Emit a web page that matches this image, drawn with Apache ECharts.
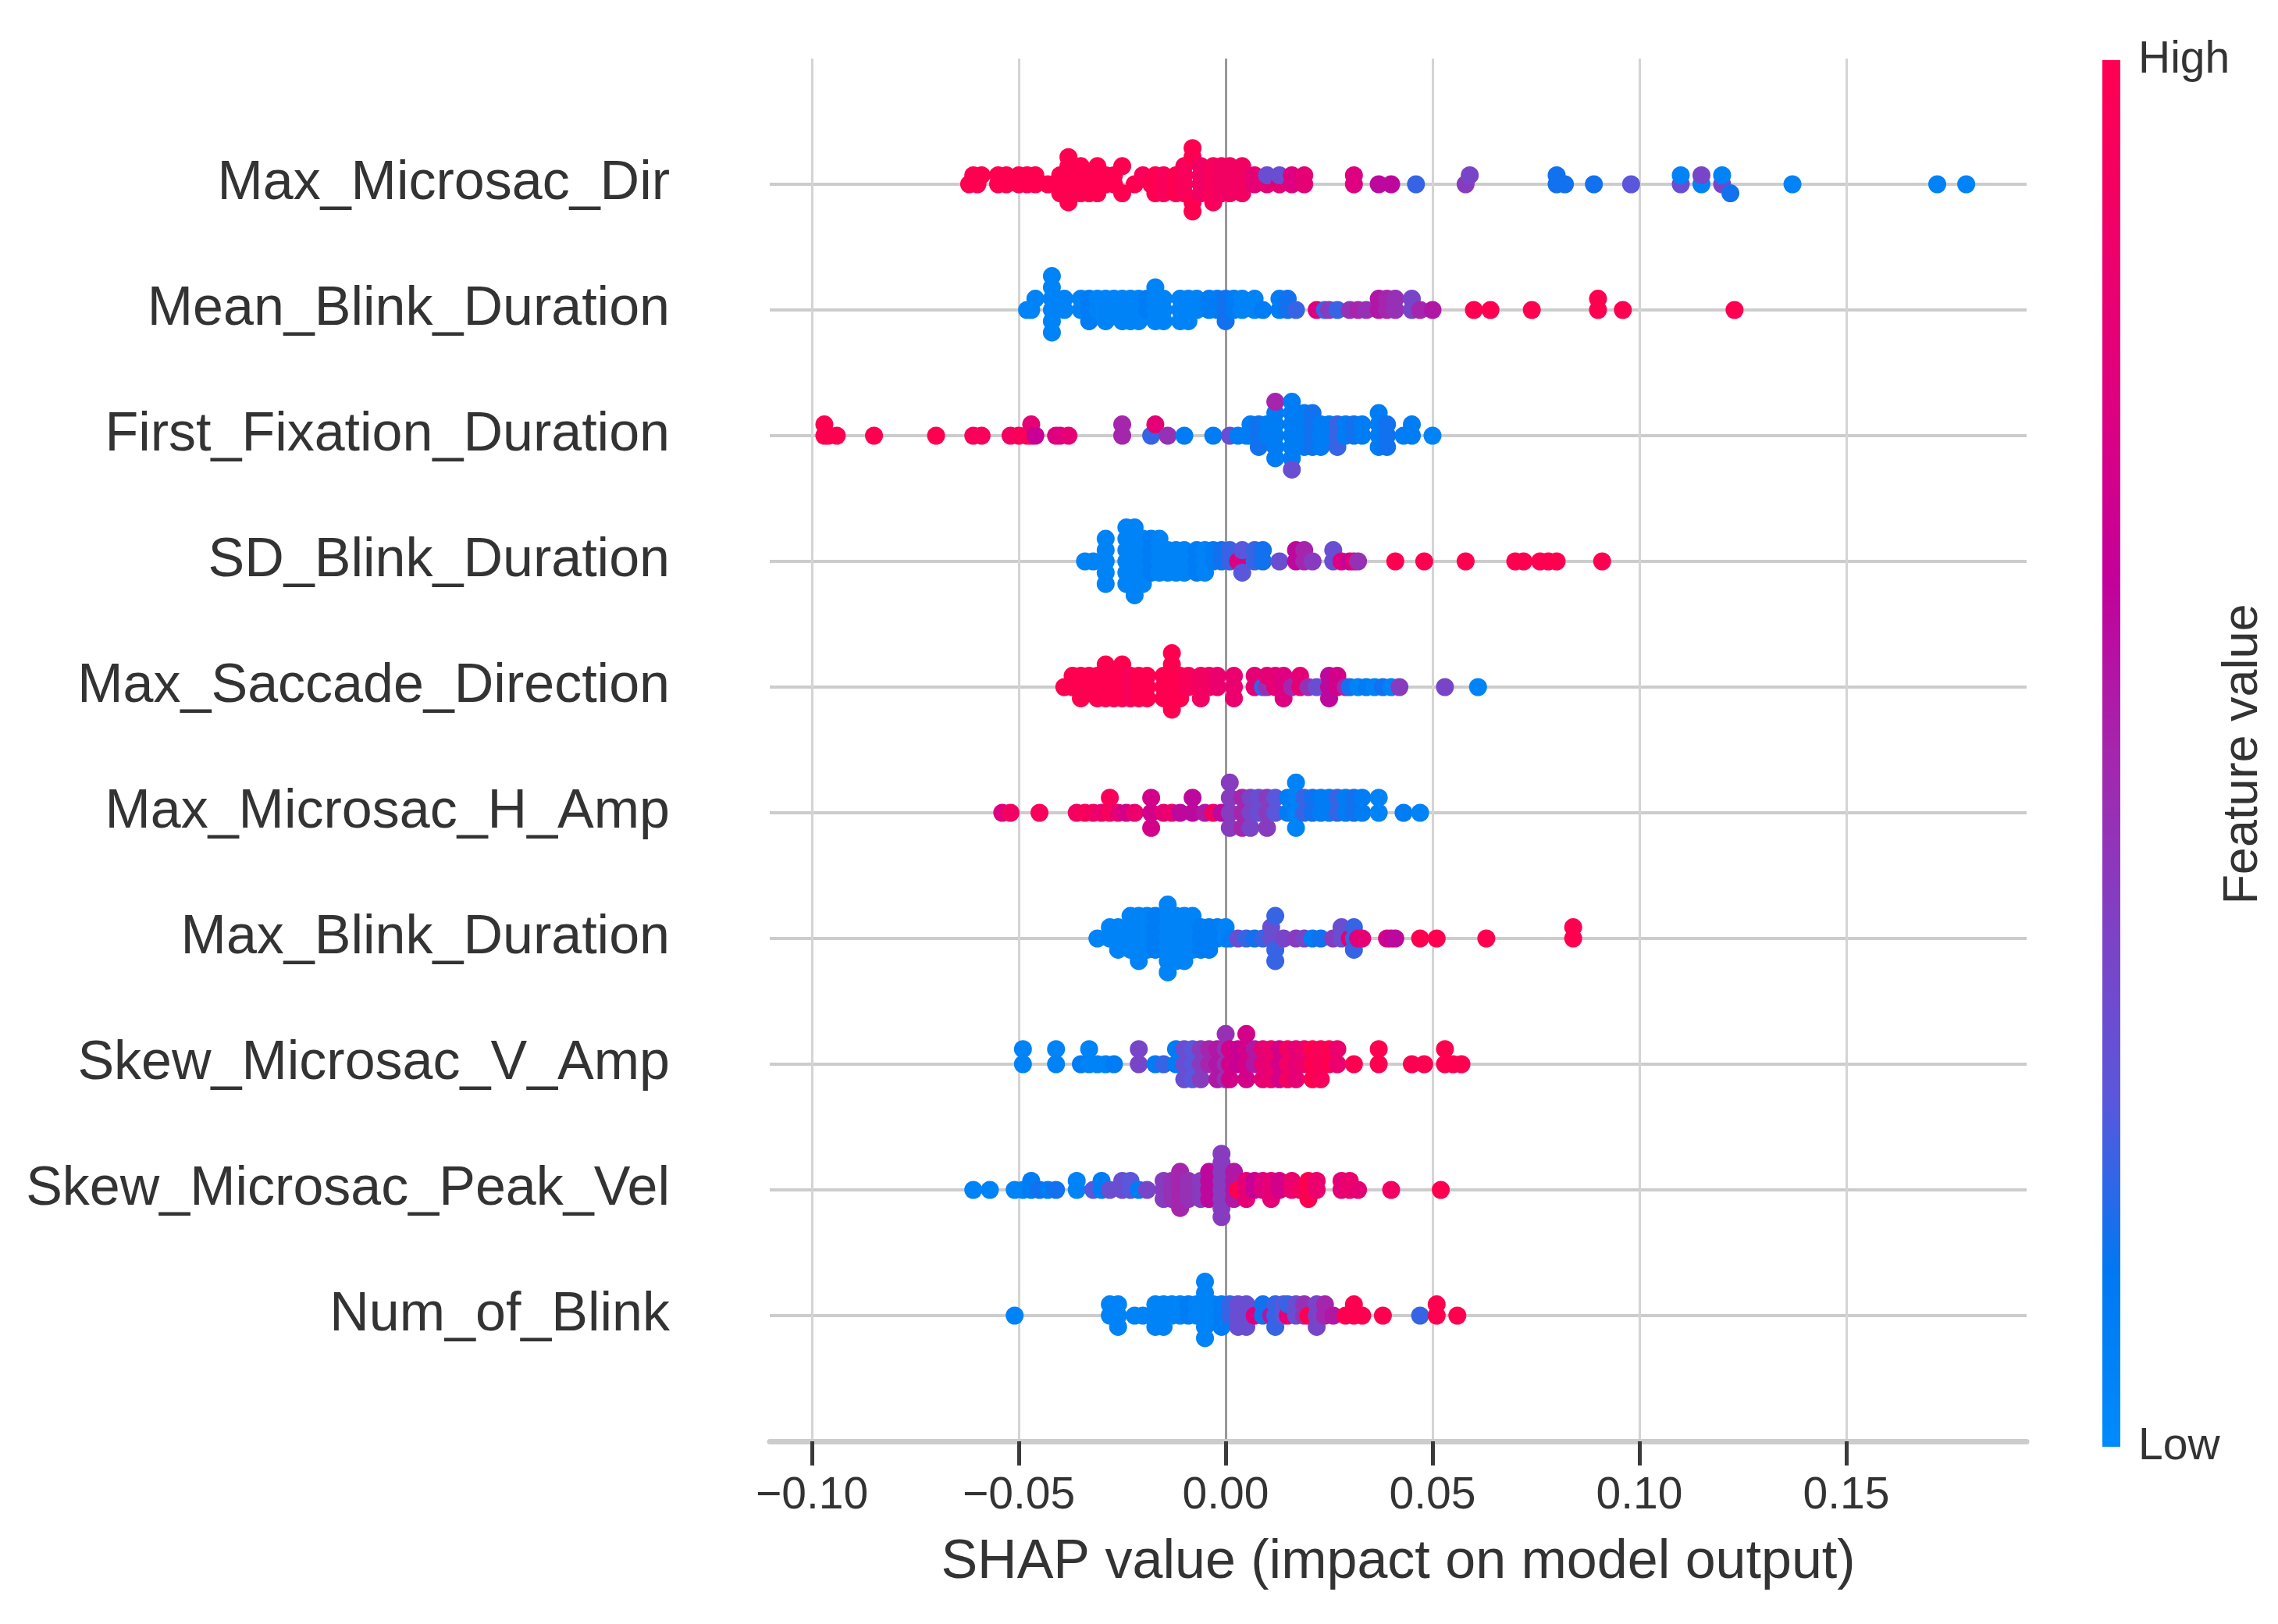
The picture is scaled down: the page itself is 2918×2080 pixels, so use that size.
<!DOCTYPE html>
<html>
<head>
<meta charset="utf-8">
<title>SHAP summary</title>
<script src="https://cdn.jsdelivr.net/npm/echarts@6/dist/echarts.min.js"></script>
<style>
  html, body { margin: 0; padding: 0; background: #fff; }
  #chart { width: 2918px; height: 2080px; }
</style>
</head>
<body>
<div id="chart"></div>
<script>
'use strict';

// ── Data ─────────────────────────────────────────────────────────────────────
// each point group: [SHAP value, feature value 0..1 (low..high), number of dots]
const featureNames = [
  'Max_Microsac_Dir', 'Mean_Blink_Duration', 'First_Fixation_Duration',
  'SD_Blink_Duration', 'Max_Saccade_Direction', 'Max_Microsac_H_Amp',
  'Max_Blink_Duration', 'Skew_Microsac_V_Amp', 'Skew_Microsac_Peak_Vel',
  'Num_of_Blink'
];

const maxMicrosacDir = [
  [-0.062,1,1],[-0.061,1,1],[-0.060,1,1],[-0.059,1,1],
  [-0.055,1,2],[-0.053,1,2],[-0.050,1,2],[-0.048,1,2],[-0.046,1,2],[-0.043,1,1],
  [-0.041,1,1],[-0.040,1,2],[-0.038,1,6],
  [-0.035,1,4],[-0.033,1,3],[-0.031,1,4],
  [-0.029,1,2],[-0.027,1,2],[-0.025,1,2],
  [-0.022,1,1],[-0.020,0.95,1],[-0.018,1,1],
  [-0.017,1,3],[-0.015,0.95,3],[-0.012,1,3],
  [-0.010,0.95,4],[-0.008,1,4],[-0.006,0.9,4],[-0.003,0.95,5],[-0.001,0.9,4],[0.001,0.9,4],[0.004,0.9,4],
  [0.007,0.8,2],[0.010,0.8,1],[0.010,0.3,1],[0.013,0.8,1],[0.013,0.3,1],[0.016,0.75,2],[0.019,0.8,2],
  [0.031,0.75,2],[0.037,0.6,1],[0.040,0.6,1],[0.046,0.2,1],[0.058,0.4,1],[0.059,0.35,1],
  [0.080,0.15,2],[0.082,0.15,1],[0.089,0.15,1],[0.098,0.25,1],
  [0.110,0.3,1],[0.110,0.05,1],[0.115,0.05,1],[0.115,0.35,1],[0.120,0.35,1],[0.120,0.05,1],[0.122,0.15,1],
  [0.137,0.05,1],[0.172,0.05,1],[0.179,0.05,1]
];

const meanBlinkDuration = [
  [-0.048,0.05,1],[-0.047,0.05,1],[-0.046,0.05,1],
  [-0.042,0.05,6],[-0.039,0.05,2],
  [-0.035,0.05,2],[-0.033,0.1,3],[-0.031,0.05,2],[-0.029,0.05,3],[-0.027,0.05,2],[-0.025,0.05,3],
  [-0.023,0.05,3],[-0.021,0.05,3],[-0.019,0.1,2],[-0.017,0.05,4],[-0.015,0.05,3],
  [-0.011,0.05,3],[-0.009,0.05,3],[-0.007,0.05,2],
  [-0.004,0.1,2],[-0.002,0.1,2],[0.000,0.15,3],[0.002,0.1,2],[0.004,0.05,2],
  [0.007,0.05,2],[0.009,0.1,1],
  [0.013,0.1,2],[0.015,0.15,2],[0.017,0.2,1],
  [0.022,0.75,1],[0.024,0.2,1],[0.025,0.4,1],[0.027,0.2,1],
  [0.030,0.45,1],[0.032,0.5,1],[0.034,0.45,1],
  [0.037,0.55,2],[0.039,0.5,2],[0.041,0.45,2],
  [0.045,0.35,2],[0.047,0.5,1],[0.050,0.55,1],
  [0.060,1,1],[0.064,1,1],[0.074,1,1],[0.090,1,2],[0.096,1,1],[0.123,1,1]
];

const firstFixationDuration = [
  [-0.097,1,2],[-0.096,1,1],[-0.094,1,1],[-0.085,1,1],[-0.070,1,1],
  [-0.061,0.95,1],[-0.059,0.95,1],
  [-0.052,0.9,1],[-0.050,0.95,1],[-0.048,0.95,1],[-0.047,1,1],[-0.047,0.8,1],[-0.046,0.65,1],
  [-0.041,0.75,1],[-0.040,0.75,1],[-0.038,0.8,1],
  [-0.025,0.5,2],[-0.018,0.2,1],[-0.017,0.8,1],[-0.014,0.45,1],[-0.010,0.1,1],[-0.003,0.1,1],
  [0.001,0.3,1],[0.003,0.1,1],[0.005,0.1,1],
  [0.006,0.1,2],[0.008,0.15,3],[0.010,0.1,2],[0.012,0.1,5],[0.012,0.5,1],
  [0.016,0.1,6],[0.016,0.3,1],
  [0.019,0.1,4],[0.021,0.15,4],[0.023,0.1,3],
  [0.025,0.1,2],[0.027,0.2,3],[0.029,0.1,2],[0.031,0.15,2],[0.033,0.1,2],
  [0.037,0.1,4],[0.039,0.15,3],
  [0.043,0.1,1],[0.045,0.1,2],[0.050,0.05,1]
];

const sdBlinkDuration = [
  [-0.034,0.05,1],[-0.032,0.05,1],[-0.029,0.05,5],
  [-0.024,0.05,6],[-0.022,0.05,7],[-0.020,0.05,5],[-0.018,0.1,4],
  [-0.016,0.05,4],[-0.014,0.05,3],[-0.012,0.05,3],[-0.010,0.05,3],
  [-0.007,0.1,3],[-0.005,0.05,3],[-0.003,0.1,2],[-0.001,0.15,2],[0.001,0.2,2],
  [0.003,0.75,1],[0.004,0.25,2],[0.007,0.2,2],[0.009,0.15,2],[0.013,0.3,1],
  [0.017,0.6,2],[0.019,0.5,2],[0.021,0.4,1],
  [0.026,0.3,2],[0.028,0.75,1],[0.030,0.6,1],[0.031,0.8,1],[0.032,0.45,1],
  [0.041,1,1],[0.048,1,1],[0.058,1,1],
  [0.070,1,1],[0.072,1,1],[0.076,1,1],[0.078,1,1],[0.080,1,1],[0.091,1,1]
];

const maxSaccadeDirection = [
  [-0.039,1,1],[-0.037,1,2],[-0.035,1,3],[-0.033,1,2],
  [-0.031,1,3],[-0.029,1,4],[-0.027,1,3],[-0.025,1,4],[-0.023,0.95,3],[-0.021,1,3],[-0.019,1,3],
  [-0.015,1,3],[-0.013,1,6],[-0.011,1,3],[-0.009,0.95,2],
  [-0.006,0.9,3],[-0.004,0.9,2],[-0.002,0.85,2],[0.002,0.85,3],
  [0.007,0.8,2],[0.009,0.2,1],[0.010,0.45,1],[0.010,0.8,1],[0.012,0.8,2],[0.014,0.75,3],[0.016,0.5,1],
  [0.018,0.8,2],[0.020,0.45,1],[0.022,0.3,1],
  [0.025,0.6,3],[0.027,0.7,2],[0.029,0.5,1],[0.030,0.15,1],
  [0.032,0.05,1],[0.034,0.1,1],[0.036,0.05,1],[0.038,0.15,1],[0.040,0.05,1],[0.042,0.4,1],
  [0.053,0.35,1],[0.061,0.05,1]
];

const maxMicrosacHAmp = [
  [-0.054,0.75,1],[-0.052,0.9,1],[-0.045,0.95,1],
  [-0.036,0.9,1],[-0.034,0.95,1],[-0.032,0.9,1],[-0.030,0.85,1],[-0.028,0.95,2],[-0.026,0.8,1],[-0.024,0.7,1],[-0.022,0.85,1],
  [-0.018,0.7,3],[-0.015,0.8,1],[-0.013,0.85,1],[-0.011,0.6,1],[-0.008,0.6,2],
  [-0.005,0.55,1],[-0.003,0.9,1],[-0.001,0.6,1],
  [0.001,0.4,4],[0.004,0.5,3],[0.006,0.35,3],[0.008,0.3,2],[0.010,0.4,3],[0.012,0.25,2],
  [0.015,0.1,2],[0.017,0.05,4],[0.019,0.2,2],[0.021,0.15,2],[0.023,0.1,2],
  [0.025,0.1,2],[0.027,0.2,2],[0.029,0.1,2],[0.031,0.15,2],[0.033,0.1,2],
  [0.037,0.05,2],[0.043,0.1,1],[0.047,0.05,1]
];

const maxBlinkDuration = [
  [-0.031,0.05,1],[-0.028,0.05,2],[-0.026,0.05,3],
  [-0.023,0.05,4],[-0.021,0.05,5],[-0.019,0.05,4],[-0.017,0.1,4],
  [-0.014,0.05,7],[-0.012,0.05,5],
  [-0.010,0.05,5],[-0.008,0.05,4],[-0.006,0.1,3],
  [-0.004,0.1,3],[-0.002,0.1,2],[0.000,0.05,2],
  [0.001,0.1,1],[0.003,0.3,1],[0.005,0.2,1],[0.007,0.15,1],[0.009,0.2,1],
  [0.011,0.3,2],[0.012,0.2,3],[0.014,0.35,1],
  [0.017,0.4,1],[0.019,0.35,1],[0.021,0.1,1],[0.023,0.15,1],
  [0.026,0.4,1],[0.028,0.3,2],[0.030,0.8,1],[0.031,0.2,3],[0.032,0.75,1],[0.033,0.8,1],
  [0.039,0.7,1],[0.040,0.65,1],[0.041,0.6,1],
  [0.047,1,1],[0.051,1,1],[0.063,1,1],[0.084,1,2]
];

const skewMicrosacVAmp = [
  [-0.049,0.05,2],[-0.041,0.05,2],
  [-0.035,0.1,1],[-0.033,0.05,2],[-0.031,0.05,1],[-0.029,0.05,1],[-0.027,0.1,1],
  [-0.021,0.35,2],[-0.017,0.1,1],[-0.015,0.2,1],
  [-0.012,0.1,2],[-0.010,0.3,3],[-0.008,0.25,3],[-0.006,0.4,3],[-0.004,0.5,2],[-0.002,0.55,3],
  [0.000,0.45,4],[0.001,0.7,3],
  [0.003,0.65,2],[0.005,0.7,4],[0.007,0.55,2],
  [0.009,0.8,3],[0.011,0.85,3],[0.013,0.7,3],[0.015,0.9,3],[0.017,0.8,3],[0.019,0.85,2],[0.021,1,3],[0.023,0.95,3],[0.025,1,2],[0.027,0.85,2],
  [0.031,1,1],[0.037,1,2],[0.045,1,1],[0.048,1,1],[0.053,1,2],[0.055,1,1],[0.057,1,1]
];

const skewMicrosacPeakVel = [
  [-0.061,0.05,1],[-0.057,0.05,1],
  [-0.051,0.05,1],[-0.049,0.05,1],[-0.047,0.1,2],[-0.045,0.15,1],
  [-0.043,0.1,1],[-0.041,0.15,1],[-0.036,0.05,2],
  [-0.032,0.25,1],[-0.030,0.1,2],[-0.028,0.3,1],
  [-0.025,0.3,2],[-0.023,0.25,2],[-0.021,0.1,1],[-0.019,0.35,1],
  [-0.015,0.4,3],[-0.013,0.45,3],[-0.011,0.5,5],[-0.009,0.45,3],
  [-0.006,0.4,3],[-0.004,0.6,4],
  [-0.001,0.4,8],[0.002,0.55,4],[0.003,1,1],
  [0.005,0.8,3],[0.007,0.65,2],[0.009,0.75,2],[0.011,0.8,3],[0.013,0.7,2],
  [0.016,0.85,2],[0.018,0.9,1],[0.020,1,3],[0.022,0.85,2],
  [0.028,0.8,2],[0.030,0.85,2],[0.032,0.8,1],
  [0.040,0.9,1],[0.052,1,1]
];

const numOfBlink = [
  [-0.051,0.05,1],
  [-0.028,0.05,2],[-0.026,0.05,3],[-0.022,0.05,1],[-0.020,0.05,1],
  [-0.017,0.05,3],[-0.015,0.05,3],[-0.013,0.05,2],[-0.011,0.05,2],[-0.009,0.1,2],[-0.007,0.05,2],
  [-0.005,0.05,6],
  [-0.003,0.05,2],[-0.001,0.1,3],[0.001,0.2,2],[0.003,0.3,3],
  [0.005,0.3,3],[0.007,0.75,1],[0.009,0.15,2],[0.011,0.55,1],[0.012,0.2,3],
  [0.014,0.25,2],[0.015,0.8,1],[0.015,0.2,1],[0.017,0.3,2],[0.019,0.45,2],[0.020,1,1],
  [0.022,0.35,3],[0.024,0.5,2],[0.026,0.55,1],
  [0.029,1,1],[0.031,1,2],[0.033,1,1],[0.038,1,1],[0.047,0.2,1],[0.051,1,2],[0.056,1,1]
];

const featurePoints = [
  maxMicrosacDir, meanBlinkDuration, firstFixationDuration, sdBlinkDuration,
  maxSaccadeDirection, maxMicrosacHAmp, maxBlinkDuration, skewMicrosacVAmp,
  skewMicrosacPeakVel, numOfBlink
];

const xTicks = [-0.10, -0.05, 0.00, 0.05, 0.10, 0.15];
const xMin = -0.1102, xMax = 0.1936;

// low → high feature value
const cmapColors = ['#008bfb', '#0078f2', '#5a57dc', '#7f41c4', '#a526ad',
                    '#c3009a', '#de0080', '#f00068', '#ff0051'];

const FONT = "'Liberation Sans', Arial, sans-serif";

// ── Beeswarm layout (same stacking rule as shap.summary_plot) ────────────────
function swarm(groups, rowY) {
  const xs = [], cs = [];
  groups.forEach(([x, c, n]) => { for (let k = 0; k < n; k++) { xs.push(x); cs.push(c); } });
  const lo = Math.min(...xs), hi = Math.max(...xs);
  const quant = xs.map(x => Math.round(100 * (x - lo) / (hi - lo + 1e-8)));
  const order = xs.map((_, i) => i).sort((a, b) => quant[a] - quant[b] || a - b);
  const ys = new Array(xs.length).fill(0);
  let layer = 0, lastBin = -1;
  order.forEach(i => {
    if (quant[i] !== lastBin) layer = 0;
    ys[i] = Math.ceil(layer / 2) * ((layer % 2) * 2 - 1);
    layer++;
    lastBin = quant[i];
  });
  const scale = 0.9 * (0.4 / (Math.max(...ys) + 1));
  return xs.map((x, i) => [x, rowY + ys[i] * scale, cs[i]]);
}

const nRows = featureNames.length;
const scatterData = [];
featurePoints.forEach((g, i) => scatterData.push(...swarm(g, nRows - 1 - i)));

// ── Chart ────────────────────────────────────────────────────────────────────
const chart = echarts.init(document.getElementById('chart'), null, { renderer: 'canvas' });

const fmtTick = v => (v < 0 ? '\u2212' : '') + Math.abs(v).toFixed(2);

chart.setOption({
  backgroundColor: '#ffffff',
  animation: false,
  textStyle: { fontFamily: FONT },
  grid: [
    { left: 986, right: 322, top: 75, bottom: 234 },
    // thin strip right under the axis line: its split lines are the tick marks
    { left: 986, right: 322, top: 1849, height: 28 }
  ],
  xAxis: [
    {
      type: 'value',
      gridIndex: 0,
      min: xMin,
      max: xMax,
      axisLine:  { show: true, onZero: false, lineStyle: { color: '#cccccc', width: 7 } },
      axisTick:  { show: true, customValues: xTicks, length: 28, lineStyle: { color: '#3a3a3a', width: 5 } },
      axisLabel: { customValues: xTicks, formatter: fmtTick, fontSize: 57, color: '#333333', margin: 42, fontFamily: FONT },
      splitLine: {
        show: true,
        lineStyle: { color: xTicks.map(v => v === 0 ? '#999999' : '#d4d4d4'), width: 3 }
      },
      name: 'SHAP value (impact on model output)',
      nameLocation: 'middle',
      nameGap: 121,
      nameTextStyle: { fontSize: 70, color: '#333333', fontFamily: FONT }
    },
    {
      type: 'value',
      gridIndex: 1,
      min: xMin,
      max: xMax,
      axisLine:  { show: false },
      axisTick:  { show: true, customValues: xTicks, lineStyle: { color: 'rgba(0,0,0,0)' } },
      axisLabel: { show: false },
      splitLine: { show: true, lineStyle: { color: '#3a3a3a', width: 5 } }
    }
  ],
  yAxis: [
    {
      type: 'value',
      gridIndex: 0,
      min: -1,
      max: nRows,
      interval: 1,
      axisLine: { show: false },
      axisTick: { show: false },
      axisLabel: {
        formatter: v => (v >= 0 && v < nRows) ? featureNames[nRows - 1 - v] : '',
        fontSize: 70, color: '#333333', margin: 128, fontFamily: FONT
      },
      splitLine: { show: true, showMinLine: false, showMaxLine: false,
                   lineStyle: { color: '#cccccc', width: 4 } }
    },
    {
      type: 'value',
      gridIndex: 1,
      min: 0,
      max: 1,
      show: false
    }
  ],
  visualMap: {
    type: 'continuous',
    show: false,
    min: 0,
    max: 1,
    dimension: 2,
    seriesIndex: 0,
    inRange: { color: cmapColors }
  },
  series: [
    {
      type: 'scatter',
      xAxisIndex: 0,
      yAxisIndex: 0,
      data: scatterData,
      symbol: 'circle',
      symbolSize: 23,
      itemStyle: { opacity: 1 },
      silent: true
    },
    {
      type: 'scatter',
      xAxisIndex: 1,
      yAxisIndex: 1,
      data: [],
      silent: true
    }
  ],
  graphic: [
    {
      id: 'cbar',
      type: 'rect',
      shape: { x: 2693, y: 77, width: 23, height: 1776 },
      style: {
        fill: new echarts.graphic.LinearGradient(0, 0, 0, 1,
          cmapColors.slice().reverse().map((c, i) => ({ offset: i / (cmapColors.length - 1), color: c })))
      }
    },
    { id: 'cbHigh', type: 'text', x: 2739, y: 77,
      style: { text: 'High', fontSize: 57, fill: '#333333', fontFamily: FONT, verticalAlign: 'middle' } },
    { id: 'cbLow', type: 'text', x: 2739, y: 1853,
      style: { text: 'Low', fontSize: 57, fill: '#333333', fontFamily: FONT, verticalAlign: 'middle' } },
    { id: 'cbTitle', type: 'text', x: 2874, y: 966, rotation: Math.PI / 2,
      style: { text: 'Feature value', fontSize: 63, fill: '#333333', fontFamily: FONT,
               align: 'center', verticalAlign: 'middle' } }
  ]
});
</script>
</body>
</html>
